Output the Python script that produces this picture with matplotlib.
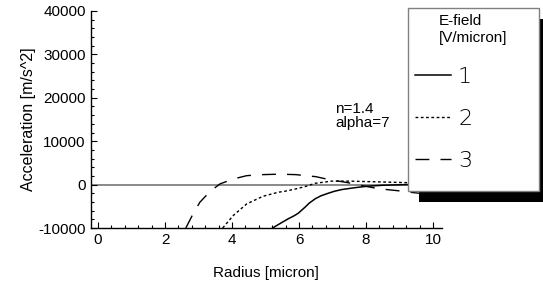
import matplotlib
matplotlib.use("Agg")
import matplotlib.pyplot as plt
from matplotlib.ticker import MultipleLocator
from matplotlib.patches import Rectangle

plt.rcParams['font.family'] = ['Liberation Sans', 'DejaVu Sans']
plt.rcParams['axes.unicode_minus'] = False

# Data
x1 = [5.21, 5.45, 5.68, 5.85, 5.98, 6.18, 6.3, 6.48, 6.65, 6.87, 7.05, 7.27, 7.62, 8.0, 8.5, 9.2, 10.0]
y1 = [-10000, -8900, -7870, -7200, -6580, -5200, -4300, -3280, -2600, -2000, -1550, -1150, -760, -400, -150, 0, 0]

x2 = [3.72, 4.04, 4.44, 4.93, 5.38, 5.58, 5.9, 6.18, 6.48, 6.97, 7.5, 8.0, 8.5, 9.2, 10.0]
y2 = [-10000, -7100, -4430, -2680, -1760, -1530, -1000, -460, 300, 800, 800, 700, 600, 450, 300]

x3 = [2.62, 2.84, 3.04, 3.34, 3.64, 4.04, 4.44, 4.88, 5.4, 5.9, 6.2, 6.5, 6.9, 7.4, 7.8, 8.2, 8.5, 9.0, 9.3, 9.6, 10.0]
y3 = [-10000, -6700, -4060, -1600, 160, 1300, 2060, 2290, 2400, 2300, 2060, 1830, 1150, 530, -100, -700, -1050, -1450, -1750, -2000, -2200]

labels = ['1', '2', '3']
legend_title = 'E-field\n[V/micron]'
annotation = 'n=1.4\nalpha=7'

W, H = 543, 284
fig = plt.figure(figsize=(W/100, H/100), dpi=100)
ax = fig.add_axes([90.7/W, 1-228/H, (441.7-90.7)/W, (228-11)/H])

ax.axhline(0, color='#808080', lw=1.3, zorder=1)
l1, = ax.plot(x1, y1, color='black', lw=1.1, ls='-', zorder=2)
l2, = ax.plot(x2, y2, color='black', lw=1.0, ls=(0, (2.0, 1.8)), zorder=2)
l3, = ax.plot(x3, y3, color='black', lw=1.0, ls=(0, (10.0, 8.0)), zorder=2)

ax.set_xlim(-0.22, 10.26)
ax.set_ylim(-10000, 40000)
ax.xaxis.set_major_locator(MultipleLocator(2))
ax.xaxis.set_minor_locator(MultipleLocator(0.4))
ax.yaxis.set_major_locator(MultipleLocator(10000))
ax.yaxis.set_minor_locator(MultipleLocator(2000))
ax.tick_params(which='both', direction='in', labelsize=11, width=0.8)
ax.tick_params(which='major', length=4.5)
ax.tick_params(which='minor', length=2.5)
for s in ['top', 'right']:
    ax.spines[s].set_visible(False)
for s in ['left', 'bottom']:
    ax.spines[s].set_linewidth(1.0)

ax.set_xlabel('Radius [micron]', fontsize=11, labelpad=14)
ax.set_ylabel('Acceleration [m/s^2]', fontsize=11.5, labelpad=2)

fig.text(335/W, 1-102/H, annotation, fontsize=11, va='top', ha='left', linespacing=1.0)

# legend box with solid black shadow
bx0, by0, bx1, by1 = 408, 8, 539, 191
fig.patches.append(Rectangle(((bx0+11)/W, 1-(by1+11)/H), (bx1-bx0)/W, (by1-by0)/H,
                             transform=fig.transFigure, facecolor='black', edgecolor='none', zorder=5))
fig.patches.append(Rectangle((bx0/W, 1-by1/H), (bx1-bx0)/W, (by1-by0)/H,
                             transform=fig.transFigure, facecolor='white', edgecolor='#808080',
                             lw=1.0, zorder=6))

leg = fig.legend([l1, l2, l3], labels, title=legend_title,
                 loc='upper left', bbox_to_anchor=(bx0/W, 1-by0/H, (bx1-bx0)/W, 0.001),
                 bbox_transform=fig.transFigure, mode='expand', borderaxespad=0,
                 fontsize=16, title_fontsize=11, handlelength=1.65, handletextpad=0.3,
                 labelspacing=1.0, borderpad=0.3, frameon=False)
leg.set_zorder(7)
for t in leg.get_texts():
    t.set_family(['DejaVu Sans'])
    t.set_fontweight('light')

fig.savefig('out.png', dpi=100)
